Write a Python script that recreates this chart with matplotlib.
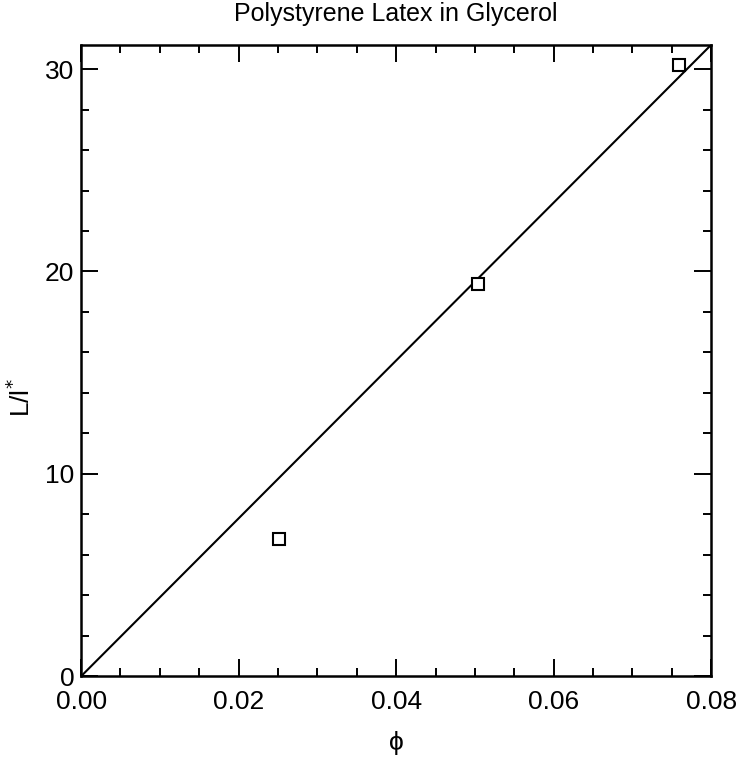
import numpy as np
import matplotlib
matplotlib.use("Agg")
import matplotlib.pyplot as plt
from matplotlib.ticker import MultipleLocator

plt.rcParams['font.family'] = ['Liberation Sans', 'DejaVu Sans']

# data
phi = [0.0251, 0.0504, 0.0759]
L_over_l = [6.8, 19.4, 30.2]

# linear fit through origin
slope = 390.0
fit_x = [0.0, 0.08]
fit_y = [slope * v for v in fit_x]

fig = plt.figure(figsize=(7.37, 7.59), dpi=100)
ax = fig.add_axes([0.110, 0.109, 0.855, 0.832])

ax.plot(fit_x, fit_y, color='black', lw=1.5)
ax.plot(phi, L_over_l, linestyle='none', marker='s', ms=8,
        mfc='white', mec='black', mew=1.5)

ax.set_xlim(0, 0.08)
ax.set_ylim(0, 31.2)

ax.xaxis.set_major_locator(MultipleLocator(0.02))
ax.xaxis.set_minor_locator(MultipleLocator(0.005))
ax.yaxis.set_major_locator(MultipleLocator(10))
ax.yaxis.set_minor_locator(MultipleLocator(2))
ax.xaxis.set_major_formatter(plt.FormatStrFormatter('%.2f'))

ax.tick_params(which='both', direction='in', top=True, right=True,
               labelsize=19, width=1.4)
ax.tick_params(axis='x', pad=10)
ax.tick_params(axis='y', pad=5)
ax.tick_params(which='major', length=12)
ax.tick_params(which='minor', length=6)
for s in ax.spines.values():
    s.set_linewidth(1.8)

ax.set_title('Polystyrene Latex in Glycerol', fontsize=18, pad=17)
ax.set_xlabel('ϕ', fontsize=19, labelpad=12)
ax.set_ylabel(r'L/l$^{*}$', fontsize=19)
ax.yaxis.set_label_coords(-0.073, 0.442)

plt.savefig('out.png', dpi=100)
